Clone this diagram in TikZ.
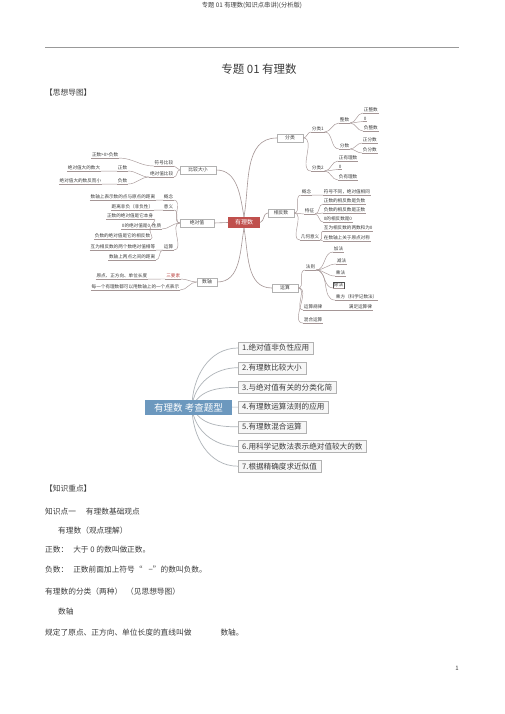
\documentclass[tikz,border=0pt]{standalone}
\usepackage{fontspec}
\setmainfont{Noto Sans CJK SC}
\usetikzlibrary{arrows.meta,positioning,shadows}
\definecolor{mapred}{RGB}{192,80,77}
\definecolor{mapline}{RGB}{165,150,150}
\definecolor{mapblue}{RGB}{108,152,190}
\definecolor{typeline}{RGB}{175,180,185}
\definecolor{inkgray}{RGB}{60,60,60}

\begin{document}
\begin{tikzpicture}[x=1pt, y=1pt,
    body/.style={font=\fontsize{7.7}{9}\selectfont, text=inkgray, anchor=west, inner sep=0pt},
    root/.style={fill=mapred, text=white, font=\fontsize{6}{7}\selectfont, minimum width=32pt, minimum height=11pt, inner sep=0pt},
    topic/.style={draw=gray!60, fill=white, font=\fontsize{4.8}{5}\selectfont, text=inkgray, minimum height=8pt, inner sep=1pt, drop shadow={shadow xshift=0.6pt, shadow yshift=-0.6pt, fill=gray!40}},
    link/.style={draw=mapline, line width=0.45pt},
    leaf/.style={font=\fontsize{4.6}{5}\selectfont, text=inkgray, inner sep=0.7pt, append after command={(\tikzlastnode.south west) edge[link] (\tikzlastnode.south east)}},
    rleaf/.style={leaf, anchor=west},
    lleaf/.style={leaf, anchor=east},
    rb/.style={link, out=0, in=180},
    lb/.style={link, out=180, in=0},
    qroot/.style={fill=mapblue, text=white, font=\fontsize{9.5}{11}\selectfont, minimum width=87pt, minimum height=15pt, inner sep=0pt},
    qtype/.style={draw=gray!60, fill=gray!6, font=\fontsize{7.6}{9}\selectfont, text=inkgray, minimum height=12pt, inner xsep=4pt, inner ysep=0pt, anchor=west, drop shadow={shadow xshift=0.8pt, shadow yshift=-0.8pt, fill=gray!45}},
    qlink/.style={draw=typeline, line width=0.7pt},
    >=Stealth
]
\fill[white] (0,0) rectangle (505,-714);
\useasboundingbox (0,0) rectangle (505,-714);

% page head
\node[font=\fontsize{6.3}{7}\selectfont, text=inkgray] (head) at (252,-5) {专题 01 有理数(知识点串讲)(分析版)};
\coordinate (ruleL) at (45,-47);
\coordinate (ruleR) at (459,-47);
\draw[gray!80, line width=0.6pt] (ruleL) -- (ruleR);
\node[font=\fontsize{11.5}{13}\selectfont, text=inkgray] (title) at (259,-69) {专题 01 有理数};
\node[body] (mapHead) at (45,-93) {【思想导图】};

% mind map: centre
\node[root] (root) at (244,-222.5) {有理数};

% right: 分类
\node[topic, minimum width=26pt] (fenlei) at (290,-138) {分类};
\node[rleaf] (fl1) at (311,-129) {分类1};
\node[rleaf] (zhengshu) at (339,-120) {整数};
\node[rleaf] (zzs) at (363,-110) {正整数};
\node[rleaf] (zeroA) at (363,-119) {0};
\node[rleaf] (fzs) at (363,-128) {负整数};
\node[rleaf] (fenshu) at (339,-146) {分数};
\node[rleaf] (zfs) at (362,-140) {正分数};
\node[rleaf] (ffs) at (362,-150) {负分数};
\node[rleaf] (fl2) at (311,-168) {分类2};
\node[rleaf] (zyl) at (338,-158) {正有理数};
\node[rleaf] (zeroB) at (338,-167) {0};
\node[rleaf] (fyl) at (338,-177) {负有理数};
\draw[rb] (fenlei.east) to (fl1.south west);
\draw[rb] (fenlei.east) to (fl2.south west);
\draw[rb] (fl1.south east) to (zhengshu.south west);
\draw[rb] (fl1.south east) to (fenshu.south west);
\draw[rb] (zhengshu.south east) to (zzs.south west);
\draw[rb] (zhengshu.south east) to (zeroA.south west);
\draw[rb] (zhengshu.south east) to (fzs.south west);
\draw[rb] (fenshu.south east) to (zfs.south west);
\draw[rb] (fenshu.south east) to (ffs.south west);
\draw[rb] (fl2.south east) to (zyl.south west);
\draw[rb] (fl2.south east) to (zeroB.south west);
\draw[rb] (fl2.south east) to (fyl.south west);

% right: 相反数
\node[topic, minimum width=26pt] (xfs) at (281,-213) {相反数};
\node[rleaf] (xgn) at (301,-192) {概念};
\node[rleaf] (xgntxt) at (323,-192) {符号不同，绝对值相同};
\node[rleaf] (xtz) at (304,-211) {特征};
\node[rleaf] (xtz1) at (323,-201) {正数的相反数是负数};
\node[rleaf] (xtz2) at (323,-210) {负数的相反数是正数};
\node[rleaf] (xtz3) at (323,-219) {0的相反数是0};
\node[rleaf] (xjh) at (300,-237) {几何意义};
\node[rleaf] (xjh1) at (323,-228) {互为相反数的两数和为0};
\node[rleaf] (xjh2) at (323,-238) {在数轴上关于原点对称};
\draw[rb] (xfs.east) to (xgn.south west);
\draw[rb] (xfs.east) to (xtz.south west);
\draw[rb] (xfs.east) to (xjh.south west);
\draw[link] (xgn.south east) -- (xgntxt.south west);
\draw[rb] (xtz.south east) to (xtz1.south west);
\draw[rb] (xtz.south east) to (xtz2.south west);
\draw[rb] (xtz.south east) to (xtz3.south west);
\draw[rb] (xjh.south east) to (xjh1.south west);
\draw[rb] (xjh.south east) to (xjh2.south west);

% right: 运算
\node[topic, minimum width=26pt] (ys) at (285,-288) {运算};
\node[rleaf] (yfz) at (305,-267) {法则};
\node[rleaf] (yjia) at (333,-249) {加法};
\node[rleaf] (yjian) at (336,-261) {减法};
\node[rleaf] (ycheng) at (335,-273) {乘法};
\node[rleaf, draw=black!70, line width=0.4pt] (ychu) at (333,-285) {除法};
\node[rleaf] (ycf) at (335,-297) {乘方（科学记数法）};
\node[rleaf] (ygl) at (303,-307) {运算规律};
\node[rleaf] (ygltxt) at (348,-307) {满足运算律};
\node[rleaf] (yhh) at (303,-320) {混合运算};
\draw[rb] (ys.east) to (yfz.south west);
\draw[rb] (ys.east) to (ygl.south west);
\draw[rb] (ys.east) to (yhh.south west);
\draw[rb] (yfz.south east) to (yjia.south west);
\draw[rb] (yfz.south east) to (yjian.south west);
\draw[rb] (yfz.south east) to (ycheng.south west);
\draw[rb] (yfz.south east) to (ychu.south west);
\draw[rb] (yfz.south east) to (ycf.south west);
\draw[link] (ygl.south east) -- (ygltxt.south west);

% left: 比较大小
\node[topic, minimum width=36pt] (bj) at (198,-170) {比较大小};
\node[lleaf] (bfh) at (174,-163) {符号比较};
\node[lleaf] (bfhtxt) at (119,-155) {正数>0>负数};
\node[lleaf] (bjd) at (174,-174) {绝对值比较};
\node[lleaf] (bzs) at (128,-168) {正数};
\node[lleaf] (bzstxt) at (101,-168) {绝对值大的数大};
\node[lleaf] (bfs) at (128,-181) {负数};
\node[lleaf] (bfstxt) at (102,-181) {绝对值大的数反而小};
\draw[lb] (bj.west) to (bfh.south east);
\draw[lb] (bj.west) to (bjd.south east);
\draw[lb] (bfh.south west) to (bfhtxt.south east);
\draw[lb] (bjd.south west) to (bzs.south east);
\draw[lb] (bjd.south west) to (bfs.south east);
\draw[link] (bzs.south west) -- (bzstxt.south east);
\draw[link] (bfs.south west) -- (bfstxt.south east);

% left: 绝对值
\node[topic, minimum width=34pt] (jd) at (197,-223) {绝对值};
\node[lleaf] (jgn) at (174,-197) {概念};
\node[lleaf] (jgntxt) at (156,-197) {数轴上表示数的点与原点的距离};
\node[lleaf] (jyy) at (174,-207) {意义};
\node[lleaf] (jyytxt) at (154,-207) {距离非负（非负性）};
\node[lleaf] (jxz) at (162,-226) {性质};
\node[lleaf] (jxz1) at (154,-216) {正数的绝对值是它本身};
\node[lleaf] (jxz2) at (151,-226) {0的绝对值是0};
\node[lleaf] (jxz3) at (151,-236) {负数的绝对值是它的相反数};
\node[lleaf] (jys) at (174,-247) {运算};
\node[lleaf] (jys1) at (156,-247) {互为相反数的两个数绝对值相等};
\node[lleaf] (jys2) at (156,-257) {数轴上两点之间的距离};
\draw[lb] (jd.west) to (jgn.south east);
\draw[lb] (jd.west) to (jyy.south east);
\draw[lb] (jd.west) to (jxz.south east);
\draw[lb] (jd.west) to (jys.south east);
\draw[link] (jgn.south west) -- (jgntxt.south east);
\draw[link] (jyy.south west) -- (jyytxt.south east);
\draw[lb] (jxz.south west) to (jxz1.south east);
\draw[lb] (jxz.south west) to (jxz2.south east);
\draw[lb] (jxz.south west) to (jxz3.south east);
\draw[link] (jys.south west) -- (jys1.south east);
\draw[lb] (jys.south west) to (jys2.south east);

% left: 数轴
\node[topic, minimum width=20pt] (sz) at (207,-282) {数轴};
\node[lleaf, text=mapred] (ssys) at (181,-276) {三要素};
\node[lleaf] (ssystxt) at (148,-276) {原点、正方向、单位长度};
\node[lleaf] (sdx) at (180,-287) {每一个有理数都可以用数轴上的一个点表示};
\draw[lb] (sz.west) to (ssys.south east);
\draw[lb] (sz.west) to (sdx.south east);
\draw[link] (ssys.south west) -- (ssystxt.south east);

% centre branches
\draw[link, line width=0.6pt] (root.north) to[out=80, in=180] (fenlei.west);
\draw[link, line width=0.6pt] (root.east) to[out=20, in=180] (xfs.west);
\draw[link, line width=0.6pt] (root.south) to[out=-80, in=180] (ys.west);
\draw[link, line width=0.6pt] (root.north) to[out=100, in=0] (bj.east);
\draw[link, line width=0.6pt] (root.west) -- (jd.east);
\draw[link, line width=0.6pt] (root.south) to[out=-100, in=0] (sz.east);

% question types
\coordinate (hub) at (192,-407);
\foreach \i/\ang/\t in {1/90/1.绝对值非负性应用, 2/85/2.有理数比较大小, 3/65/3.与绝对值有关的分类化简, 4/0/4.有理数运算法则的应用, 5/-65/5.有理数混合运算, 6/-85/6.用科学记数法表示绝对值较大的数, 7/-90/7.根据精确度求近似值}{
  \node[qtype] (q\i) at (238,{-348-19.7*(\i-1)}) {\t};
  \draw[qlink] (hub) to[out=\ang, in=180] (q\i.west);
}
\node[qroot] (qroot) at (188.5,-407.5) {有理数 考查题型};

% key points
\node[body] (kpHead) at (45,-489) {【知识重点】};
\node[body] (kpOne) at (45,-512) {知识点一\hspace{10pt}有理数基础观点};
\node[body] (kpOneA) at (58,-531) {有理数（观点理解）};
\node[body] (posDef) at (45,-550) {正数：\hspace{5pt}大于 0 的数叫做正数。};
\node[body] (negDef) at (45,-570) {负数：\hspace{5pt}正数前面加上符号“\hspace{6pt}−”的数叫负数。};
\node[body] (clsDef) at (45,-592) {有理数的分类（两种）\hspace{4pt}（见思想导图）};
\node[body] (axisHead) at (58,-612) {数轴};
\node[body] (axisDef) at (45,-633) {规定了原点、正方向、单位长度的直线叫做\hspace{29pt}数轴。};
\node[font=\fontsize{6}{7}\selectfont, text=inkgray] (pageNo) at (457,-668) {1};
\end{tikzpicture}
\end{document}
